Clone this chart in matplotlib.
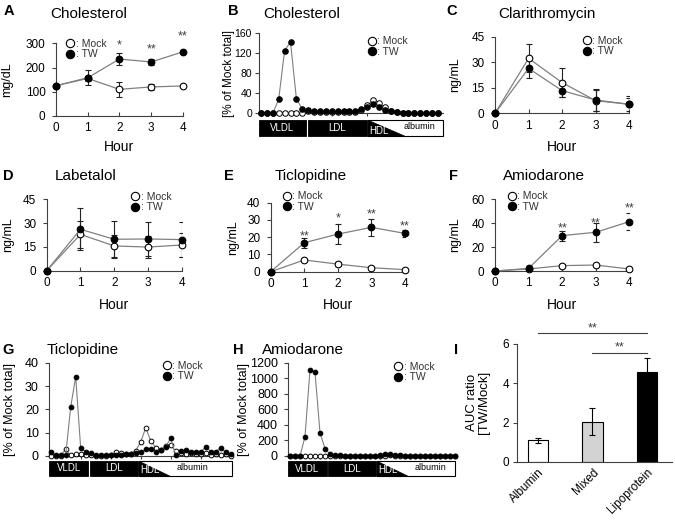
import matplotlib
matplotlib.use('Agg')
import matplotlib.pyplot as plt
from matplotlib.lines import Line2D
from matplotlib.patches import Rectangle, Polygon
import matplotlib.transforms as mtrans

plt.rcParams['font.family'] = ['Liberation Sans', 'DejaVu Sans']

# ---------------- data ----------------
hours = [0, 1, 2, 3, 4]

chol_mock = [125, 155, 110, 120, 124]
chol_mock_err = [0, 10, 30, 14, 5]
chol_tw = [125, 158, 235, 223, 265]
chol_tw_err = [0, 31, 25, 12, 8]
chol_sig = ['', '', '*', '**', '**']
chol_sig_y = [0, 0, 307, 289, 344]

clar_mock = [0, 32.3, 18.0, 7.4, 5.3]
clar_mock_err = [0, 8.2, 8.4, 6.3, 5.1]
clar_tw = [0, 26.4, 13.3, 7.8, 5.3]
clar_tw_err = [0, 5.4, 3.9, 6.4, 3.9]

lab_mock = [0, 22.9, 15.6, 14.9, 16.2]
lab_mock_err = [0, 8.4, 7.0, 7.0, 7.8]
lab_tw = [0, 26.1, 19.8, 20.0, 19.6]
lab_tw_err = [0, 13.2, 11.5, 10.5, 10.8]

tic_mock = [0, 6.8, 4.4, 2.3, 1.2]
tic_mock_err = [0, 0.8, 1.2, 0.6, 0.5]
tic_tw = [0, 16.8, 21.8, 25.7, 22.2]
tic_tw_err = [0, 3.0, 5.7, 4.8, 2.2]
tic_sig = ['', '**', '*', '**', '**']
tic_sig_y = [0, 22.6, 32.9, 35.4, 28.4]

ami_mock = [0, 1.7, 4.5, 5.0, 1.7]
ami_mock_err = [0, 0.5, 1.0, 1.0, 0.5]
ami_tw = [0, 2.2, 29.6, 32.4, 41.3]
ami_tw_err = [0, 0.8, 4.2, 8.0, 7.0]
ami_sig = ['', '', '**', '**', '**']
ami_sig_y = [0, 0, 38.5, 43.3, 55.3]

# fraction profiles (% of Mock total)
chol_frac_mock = [0, 0, 0, 0, 0, 0, 0, 0, 4, 2, 3, 3, 3, 3, 3, 3, 3, 6, 16, 26,
                  21, 12, 5, 2, 1, 1, 1, 1, 1, 1, 1]
chol_frac_tw = [0, 0, 0, 28, 125, 142, 29, 8, 6, 5, 5, 4, 4, 4, 4, 4, 4, 9, 13, 18,
                12, 6, 4, 2, 1, 1, 1, 1, 1, 1, 1]

tic_frac_mock = [0, 0, 0, 3, 0.3, 0.8, 0.8, 0.3, 0.3, 0.2, 0.2, 0.2, 0.3, 1.6, 1.4,
                 0.8, 1.0, 2.3, 6, 12, 6.6, 3.6, 2.5, 4.5, 4.7, 2, 1.5, 1.0, 1.5,
                 0.8, 1.0, 1.2, 0.5, 0.8, 0.3, 0.8, 0.2]
tic_frac_tw = [1.6, 0.4, 0.4, 0.4, 21, 34, 3.3, 1.9, 1.1, 0.6, 0.6, 0.6, 0.6, 0.6,
               0.6, 0.8, 1.0, 1.2, 1.6, 2.9, 2.9, 1.9, 2.6, 4.0, 7.6, 0.4, 2.3, 2.6,
               1.9, 1.9, 1.6, 4.0, 1.9, 1.9, 3.6, 1.6, 0.7]

ami_frac_mock = [0, 0, 0, 0, 0, 0, 0, 0, 0, 2, 2, 2, 2, 2, 2, 2, 2, 2, 2, 5, 8, 5,
                 3, 2, 2, 2, 2, 2, 2, 2, 2, 2, 2, 2]
ami_frac_tw = [0, 0, 0, 250, 1110, 1075, 300, 95, 25, 10, 8, 6, 5, 5, 5, 5, 5, 5, 8,
               20, 28, 18, 10, 6, 5, 5, 5, 5, 5, 5, 5, 5, 5, 5]

auc_cats = ['Albumin', 'Mixed', 'Lipoprotein']
auc_vals = [1.1, 2.05, 4.6]
auc_err = [0.12, 0.68, 0.68]
auc_colors = ['white', '#d3d3d3', 'black']
auc_sig_pairs = [(0, 2), (1, 2)]
auc_sig_level = [6.55, 5.56]
auc_sig_text = ['**', '**']

# ---------------- figure ----------------
W, H = 675, 523
fig = plt.figure(figsize=(6.75, 5.23), dpi=100)
LINE = '#808080'
SPINE = '#404040'
STAR = '#404040'


def add_ax(l, t, r, b):
    return fig.add_axes([l / W, 1 - b / H, (r - l) / W, (b - t) / H])


def style(ax, fs=8.5, ypad=4.5, xdir='in', xpad=4.5):
    for s in ['top', 'right']:
        ax.spines[s].set_visible(False)
    for s in ['left', 'bottom']:
        ax.spines[s].set_linewidth(0.8)
        ax.spines[s].set_color(SPINE)
    ax.tick_params(axis='y', direction='out', length=3, width=0.8, colors=SPINE,
                   labelcolor='black', labelsize=fs, pad=ypad)
    ax.tick_params(axis='x', direction=xdir, length=3, width=0.8, colors=SPINE,
                   labelcolor='black', labelsize=fs, pad=xpad)


def legend(ax, cx, cy, ms=6, row=12):
    hs = [Line2D([], [], ls='none', marker='o', ms=ms, mfc='white', mec='black', mew=0.8),
          Line2D([], [], ls='none', marker='o', ms=ms, mfc='black', mec='black', mew=0.8)]
    fs = 7.5
    hl = 0.8
    left = cx - hl * fs * 100 / 72 / 2
    ax.legend(hs, [': Mock', ': TW'], loc='center left',
              bbox_to_anchor=(left / W, 1 - (cy + row / 2) / H),
              bbox_transform=fig.transFigure, frameon=False, fontsize=fs,
              handlelength=hl, handletextpad=0.15, labelspacing=0.05,
              borderpad=0, borderaxespad=0, labelcolor='#333333')


def title(ax, box, text, px, py, fs=11):
    l, t, r, b = box
    ax.set_title(text, loc='left', x=(px - l) / (r - l), y=(b - py) / (b - t),
                 pad=0, fontsize=fs, va='center')


def ylab(ax, box, text, px, fs=9):
    l, t, r, b = box
    ax.set_ylabel(text, fontsize=fs, va='center', ha='center')
    ax.yaxis.set_label_coords((px - l) / (r - l), 0.5)


def sig(ax, xs, labels, ys, fs=9):
    for x, s, y in zip(xs, labels, ys):
        if s:
            ax.annotate(s, (x, y), xytext=(0, -5.0), textcoords='offset points',
                        ha='center', va='baseline', fontsize=fs, color=STAR,
                        annotation_clip=False)


def time_panel(box, mock, mock_err, tw, tw_err, ymax, yticks, ylabel, ylabel_px,
               xlabel_py, ms=4.8):
    l, t, r, b = box
    ax = add_ax(*box)
    ax.errorbar(hours, mock, yerr=mock_err, fmt='none', ecolor='#222222',
                elinewidth=0.8, capsize=2, capthick=0.8, zorder=2)
    ax.errorbar(hours, tw, yerr=tw_err, fmt='none', ecolor='#222222',
                elinewidth=0.8, capsize=2, capthick=0.8, zorder=2)
    ax.plot(hours, mock, color=LINE, lw=0.9, marker='o', ms=ms, mfc='white',
            mec='black', mew=0.8, clip_on=False, zorder=3)
    ax.plot(hours, tw, color=LINE, lw=0.9, marker='o', ms=ms, mfc='black',
            mec='black', mew=0.8, clip_on=False, zorder=4)
    ax.set_xlim(0, 4)
    ax.set_ylim(0, ymax)
    ax.set_xticks(hours)
    ax.set_yticks(yticks)
    style(ax)
    ax.set_xlabel('Hour', fontsize=10, va='center')
    ax.xaxis.set_label_coords(0.5, (b - xlabel_py) / (b - t))
    ylab(ax, box, ylabel, ylabel_px)
    return ax


def frac_panel(box, mock, tw, xlim, ymax, yticks, ms, band_px, regions, tri_end,
               alb_x, ylabel_px, fs=8.5, ypad=4.5, lab_fs=9):
    l, t, r, b = box
    ax = add_ax(*box)
    x = list(range(len(mock)))
    ax.plot(x, mock, color=LINE, lw=0.8, marker='o', ms=ms, mfc='white',
            mec='black', mew=0.7, clip_on=False, zorder=3)
    ax.plot(x, tw, color=LINE, lw=0.8, marker='o', ms=ms, mfc='black',
            mec='black', mew=0.7, clip_on=False, zorder=4)
    ax.set_xlim(*xlim)
    ax.set_ylim(0, ymax)
    ax.set_yticks(yticks)
    ax.set_xticks([6, 12, 18, 24, 30])
    ax.set_xticklabels([])
    style(ax, fs=fs, ypad=ypad, xdir='out')
    ax.tick_params(axis='x', length=2.5)
    ylab(ax, box, '[% of Mock total]', ylabel_px, fs=lab_fs)
    # fraction bands
    trans = mtrans.blended_transform_factory(ax.transData, ax.transAxes)
    y0 = (b - band_px[1]) / (b - t)
    y1 = (b - band_px[0]) / (b - t)
    (v0, v1), (d0, d1), (h0, h1) = regions
    ax.add_patch(Rectangle((v0, y0), v1 - v0, y1 - y0, transform=trans,
                           facecolor='black', edgecolor='black', lw=0.6, clip_on=False))
    ax.add_patch(Rectangle((d0, y0), d1 - d0, y1 - y0, transform=trans,
                           facecolor='black', edgecolor='black', lw=0.6, clip_on=False))
    ax.add_patch(Rectangle((h0, y0), h1 - h0, y1 - y0, transform=trans,
                           facecolor='white', edgecolor='black', lw=0.8, clip_on=False))
    ax.add_patch(Polygon([(h0, y1), (h0, y0), (tri_end, y0)], closed=True,
                         transform=trans, facecolor='black', edgecolor='black',
                         lw=0.6, clip_on=False))
    ym = (y0 + y1) / 2
    ax.text((v0 + v1) / 2, ym, 'VLDL', transform=trans, ha='center', va='center',
            color='white', fontsize=7)
    ax.text((d0 + d1) / 2, ym, 'LDL', transform=trans, ha='center', va='center',
            color='white', fontsize=7)
    ax.text(h0 + 0.3, y0 + (y1 - y0) * 0.05, 'HDL', transform=trans, ha='left',
            va='bottom', color='white', fontsize=7)
    ax.text(alb_x, ym + (y1 - y0) * 0.08, 'albumin', transform=trans, ha='center',
            va='center', color='black', fontsize=6.5)
    return ax


def letter(px, py, s):
    fig.text(px / W, 1 - py / H, s, fontsize=10.5, fontweight='bold',
             ha='center', va='center')


# A
boxA = (56, 43.3, 183, 116)
axA = time_panel(boxA, chol_mock, chol_mock_err, chol_tw, chol_tw_err, 300,
                 [0, 100, 200, 300], 'mg/dL', 7, 147)
title(axA, boxA, 'Cholesterol', 50, 13.5)
legend(axA, 70, 43)
sig(axA, hours, chol_sig, chol_sig_y)

# B
boxB = (259, 33, 443, 113.3)
axB = frac_panel(boxB, chol_frac_mock, chol_frac_tw, (-0.34, 30.85), 160,
                 [0, 40, 80, 120, 160], 4.0, (120, 136.5),
                 [(-0.34, 7.6), (7.9, 17.9), (18.1, 30.85)], 24.4, 26.9, 229,
                 fs=7.5, ypad=2.0, lab_fs=8.5)
title(axB, boxB, 'Cholesterol', 263, 14)
legend(axB, 371.7, 40.7)

# C
boxC = (495, 36.7, 629.3, 113.3)
axC = time_panel(boxC, clar_mock, clar_mock_err, clar_tw, clar_tw_err, 45,
                 [0, 15, 30, 45], 'ng/mL', 455, 147)
title(axC, boxC, 'Clarithromycin', 498, 14)
legend(axC, 586.7, 40)

# D
boxD = (46.7, 199.3, 181.7, 270.7)
axD = time_panel(boxD, lab_mock, lab_mock_err, lab_tw, lab_tw_err, 45,
                 [0, 15, 30, 45], 'ng/mL', 8, 304.7)
title(axD, boxD, 'Labetalol', 55, 176)
legend(axD, 135, 196)

# E
boxE = (270.7, 202.7, 405, 271.7)
axE = time_panel(boxE, tic_mock, tic_mock_err, tic_tw, tic_tw_err, 40,
                 [0, 10, 20, 30, 40], 'ng/mL', 233, 304.7)
title(axE, boxE, 'Ticlopidine', 275, 176)
legend(axE, 286.7, 195.7)
sig(axE, hours, tic_sig, tic_sig_y)

# F
boxF = (495, 199.3, 629.3, 271)
axF = time_panel(boxF, ami_mock, ami_mock_err, ami_tw, ami_tw_err, 60,
                 [0, 20, 40, 60], 'ng/mL', 455, 304.7)
title(axF, boxF, 'Amiodarone', 503, 176)
legend(axF, 511.7, 195.7)
sig(axF, hours, ami_sig, ami_sig_y)

# G
boxG = (49.3, 362.7, 232, 456)
axG = frac_panel(boxG, tic_frac_mock, tic_frac_tw, (-0.28, 36.26), 40,
                 [0, 10, 20, 30, 40], 3.4, (460.7, 476),
                 [(-0.28, 7.5), (7.85, 17.5), (17.7, 36.26)], 23.9, 28.3, 10, fs=9)
title(axG, boxG, 'Ticlopidine', 47, 350)
legend(axG, 166.7, 365)

# H
boxH = (288.3, 362.7, 455, 456)
axH = frac_panel(boxH, ami_frac_mock, ami_frac_tw, (-0.34, 33.0), 1200,
                 [0, 200, 400, 600, 800, 1000, 1200], 3.4, (461, 476),
                 [(-0.34, 7.34), (7.67, 17.13), (17.3, 33.0)], 23.5, 28.1, 244, fs=9)
title(axH, boxH, 'Amiodarone', 262, 350)
legend(axH, 398.3, 366)

# I
boxI = (517, 344, 672, 462)
axI = add_ax(*boxI)
xpos = list(range(len(auc_cats)))
axI.bar(xpos, auc_vals, width=0.37, color=auc_colors, edgecolor='black', lw=0.8,
        yerr=auc_err, error_kw=dict(ecolor='black', elinewidth=0.8, capsize=2.5,
                                    capthick=0.8), zorder=2)
axI.set_xlim(-0.385, 2.46)
axI.set_ylim(0, 6)
axI.set_yticks([0, 2, 4, 6])
axI.set_xticks(xpos)
axI.set_xticklabels(auc_cats, rotation=45, ha='right', va='top', rotation_mode='anchor')
style(axI, fs=8.5, ypad=2.5)
axI.tick_params(axis='x', length=0, pad=3)
for (i0, i1), lev, s in zip(auc_sig_pairs, auc_sig_level, auc_sig_text):
    axI.plot([i0, i1], [lev, lev], color=SPINE, lw=0.8, clip_on=False)
    axI.annotate(s, ((i0 + i1) / 2, lev), xytext=(0, 1.5), textcoords='offset points',
                 ha='center', va='baseline', fontsize=9, color=STAR,
                 annotation_clip=False)
axI.set_ylabel('AUC ratio\n[TW/Mock]', fontsize=9.5, va='center', ha='center',
               linespacing=1.0)
axI.yaxis.set_label_coords((478 - 517) / (672 - 517), (462 - 402) / (462 - 344))

letter(9, 11, 'A')
letter(233, 11, 'B')
letter(452, 11, 'C')
letter(8, 176, 'D')
letter(229, 176, 'E')
letter(453, 176, 'F')
letter(8, 350, 'G')
letter(238, 350, 'H')
letter(456, 350, 'I')

fig.savefig('out.png', dpi=100)
